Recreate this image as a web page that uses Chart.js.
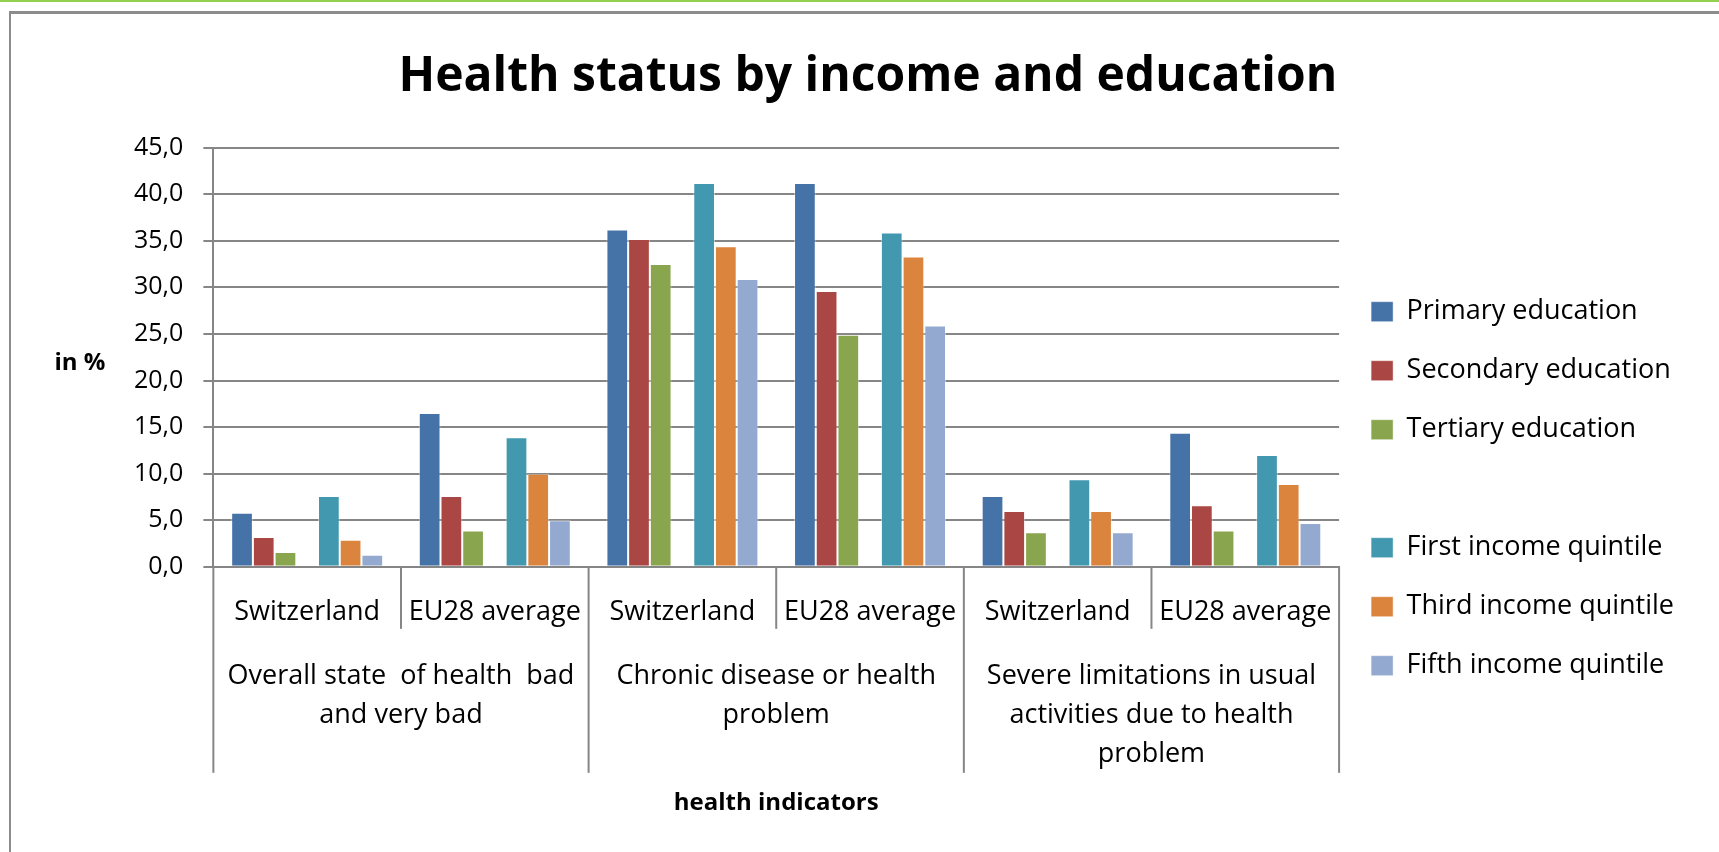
<!DOCTYPE html>
<html>
<head>
<meta charset="utf-8">
<title>Health status by income and education</title>
<script src="https://cdn.jsdelivr.net/npm/chart.js@4.4.1/dist/chart.umd.min.js"></script>
<style>
    html, body { margin: 0; padding: 0; background: #fff; }
    body { width: 1719px; height: 852px; overflow: hidden; position: relative; }
    #topLine { position: absolute; left: 0; top: 0; width: 1719px; height: 2px; background: #92d050; }
    #frame { position: absolute; left: 9px; top: 11px; width: 1710px; height: 841px;
             border-left: 2px solid #8c8c8c; border-top: 3px solid #8c8c8c; box-sizing: border-box; }
    #healthChart { position: absolute; left: 0; top: 0; }
</style>
</head>
<body>
<div id="topLine"></div>
<div id="frame"></div>
<canvas id="healthChart" width="1719" height="852"></canvas>
<script>
const subCategories = ['Switzerland', 'EU28 average', 'Switzerland', 'EU28 average', 'Switzerland', 'EU28 average'];
const indicatorGroups = [
    ['Overall state  of health  bad', 'and very bad'],
    ['Chronic disease or health', 'problem'],
    ['Severe limitations in usual', 'activities due to health', 'problem']
];
const yTickLabels = ['0,0', '5,0', '10,0', '15,0', '20,0', '25,0', '30,0', '35,0', '40,0', '45,0'];

const primaryEducation   = [5.8, 16.5, 36.2, 41.2, 7.6, 14.4];
const secondaryEducation = [3.2, 7.6, 35.2, 29.6, 6.0, 6.6];
const tertiaryEducation  = [1.6, 3.9, 32.5, 24.9, 3.7, 3.9];
const spacer             = [null, null, null, null, null, null];
const firstQuintile      = [7.6, 13.9, 41.2, 35.9, 9.4, 12.0];
const thirdQuintile      = [2.9, 10.0, 34.4, 33.3, 6.0, 8.9];
const fifthQuintile      = [1.3, 5.0, 30.9, 25.9, 3.7, 4.7];

const gridGray = '#868686';
const font = "'Open Sans', 'DejaVu Sans', sans-serif";
const SUB_TICK = 62;    // separator length between countries
const GROUP_TICK = 206; // separator length between indicator groups

function bars(label, data, color) {
    return {
        label: label,
        data: data,
        backgroundColor: color,
        borderColor: 'rgba(255,255,255,0.45)',
        borderWidth: 1,
        xAxisID: 'x',
        yAxisID: 'y'
    };
}

// Excel-style horizontal value axis title + two level category separators
const excelAxisPlugin = {
    id: 'excelAxis',
    afterDraw(chart) {
        const ctx = chart.ctx;
        const area = chart.chartArea;
        const xs = chart.scales.x;
        const n = subCategories.length;
        const half = (xs.getPixelForValue(1) - xs.getPixelForValue(0)) / 2;

        ctx.save();
        ctx.strokeStyle = gridGray;
        ctx.lineWidth = 2;
        for (let i = 0; i <= n; i++) {
            const px = i < n ? xs.getPixelForValue(i) - half : xs.getPixelForValue(n - 1) + half;
            const len = i % 2 === 0 ? GROUP_TICK : SUB_TICK;
            ctx.beginPath();
            ctx.moveTo(px, area.bottom);
            ctx.lineTo(px, area.bottom + len);
            ctx.stroke();
        }

        ctx.font = 'bold 24px ' + font;
        ctx.fillStyle = '#000';
        ctx.textAlign = 'center';
        ctx.textBaseline = 'middle';
        ctx.fillText('in %', 80, (area.top + area.bottom) / 2 + 6);
        ctx.restore();
    }
};

const ctx = document.getElementById('healthChart').getContext('2d');
const healthChart = new Chart(ctx, {
    type: 'bar',
    data: {
        labels: subCategories,
        datasets: [
            bars('Primary education', primaryEducation, '#4572a7'),
            bars('Secondary education', secondaryEducation, '#aa4643'),
            bars('Tertiary education', tertiaryEducation, '#89a54e'),
            bars('', spacer, 'rgba(0,0,0,0)'),
            bars('First income quintile', firstQuintile, '#4198af'),
            bars('Third income quintile', thirdQuintile, '#db843d'),
            bars('Fifth income quintile', fifthQuintile, '#93a9cf')
        ]
    },
    options: {
        responsive: false,
        animation: false,
        datasets: {
            bar: { barPercentage: 1.0, categoryPercentage: 0.81 }
        },
        layout: {
            padding: { left: 114, right: 35, top: 0, bottom: 24 }
        },
        plugins: {
            title: {
                display: true,
                // trailing spaces keep the title centred on the whole frame, not the padded box
                text: 'Health status by income and education     ',
                color: '#000',
                font: { family: font, size: 48, weight: 'bold' },
                padding: { top: 49, bottom: 41 }
            },
            legend: {
                position: 'right',
                align: 'center',
                title: { display: true, text: '', font: { size: 12 }, padding: { top: 0, bottom: 135 } },
                labels: {
                    color: '#000',
                    font: { family: font, size: 27 },
                    boxWidth: 22,
                    boxHeight: 20,
                    padding: 32
                }
            },
            tooltip: { enabled: false }
        },
        scales: {
            y: {
                min: 0,
                max: 45,
                ticks: {
                    stepSize: 5,
                    color: '#000',
                    padding: 20,
                    font: { family: font, size: 25 },
                    callback: (value, index) => yTickLabels[index]
                },
                grid: { color: gridGray, lineWidth: 2, tickLength: 10 },
                border: { color: gridGray, width: 2 }
            },
            x: {
                type: 'category',
                labels: subCategories,
                offset: true,
                ticks: {
                    color: '#000',
                    padding: 29,
                    font: { family: font, size: 27, lineHeight: 1.2 },
                    maxRotation: 0,
                    autoSkip: false
                },
                grid: { offset: true, drawOnChartArea: false, drawTicks: false },
                border: { color: gridGray, width: 2 }
            },
            x2: {
                type: 'category',
                position: 'bottom',
                labels: indicatorGroups,
                offset: true,
                ticks: {
                    color: '#000',
                    padding: 0,
                    font: { family: font, size: 27, lineHeight: 1.444 },
                    maxRotation: 0,
                    autoSkip: false
                },
                grid: { offset: true, drawOnChartArea: false, drawTicks: false },
                border: { display: false },
                title: {
                    display: true,
                    text: 'health indicators',
                    color: '#000',
                    font: { family: font, size: 24, weight: 'bold' },
                    padding: { top: 15, bottom: 10 }
                }
            }
        }
    },
    plugins: [excelAxisPlugin]
});
</script>
</body>
</html>
